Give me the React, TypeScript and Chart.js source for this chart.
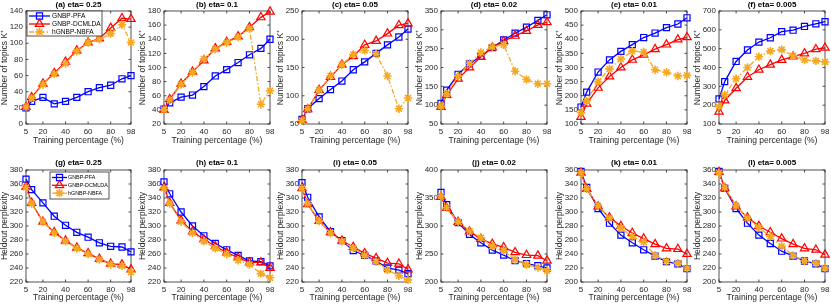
import React, { useEffect, useRef } from 'react';
import { Chart, registerables } from 'chart.js';
import { drawPoint } from 'chart.js/helpers';

Chart.register(...registerables);

const FONT = '"Liberation Sans", Arial, Helvetica, sans-serif';
const TEXT = '#262626';

// ---- data ----
const trainPct = [5, 10, 20, 30, 40, 50, 60, 70, 80, 90, 98];
const xTickValues = [5, 20, 40, 60, 80, 98];
const seriesNames = ['GNBP-PFA', 'GNBP-DCMLDA', 'hGNBP-NBFA'];

const topTitles = ['(a) eta= 0.25', '(b) eta= 0.1', '(c) eta= 0.05', '(d) eta= 0.02', '(e) eta= 0.01', '(f) eta= 0.005'];
const bottomTitles = ['(g) eta= 0.25', '(h) eta= 0.1', '(i) eta= 0.05', '(j) eta= 0.02', '(k) eta= 0.01', '(l) eta= 0.005'];
const topYLabel = 'Number of topics K\u207A';
const bottomYLabel = 'Heldout perplexity';
const xLabel = 'Training percentage (%)';

// Number of topics K+
const kA_pfa = [20, 28, 33, 25, 28, 33, 40, 45, 48, 56, 60];
const kA_dcm = [21, 33, 50, 63, 77, 91, 101, 106, 119, 131, 130];
const kA_nbfa = [21, 32, 49, 62, 75, 90, 101, 105, 112, 123, 101];

const kB_pfa = [41, 50, 58, 61, 73, 88, 97, 107, 118, 127, 140];
const kB_dcm = [40, 55, 77, 94, 110, 127, 136, 144, 157, 171, 179];
const kB_nbfa = [40, 54, 76, 93, 112, 126, 135, 143, 155, 48, 67];

const kC_pfa = [58, 77, 95, 111, 126, 146, 160, 175, 190, 204, 218];
const kC_dcm = [57, 76, 110, 133, 155, 170, 190, 197, 210, 225, 228];
const kC_nbfa = [56, 77, 110, 135, 155, 173, 180, 174, 135, 77, 96];

const kD_pfa = [105, 140, 182, 210, 230, 253, 273, 291, 307, 325, 340];
const kD_dcm = [95, 127, 170, 200, 228, 253, 270, 284, 297, 313, 320];
const kD_nbfa = [97, 130, 177, 211, 240, 255, 260, 190, 168, 157, 157];

const kE_pfa = [160, 213, 284, 327, 357, 381, 406, 422, 441, 454, 476];
const kE_dcm = [125, 172, 228, 268, 300, 327, 345, 365, 381, 399, 407];
const kE_nbfa = [140, 182, 250, 295, 330, 358, 355, 292, 283, 270, 272];

const kF_pfa = [233, 325, 432, 493, 535, 558, 590, 598, 618, 632, 643];
const kF_dcm = [165, 225, 290, 350, 388, 415, 440, 458, 475, 497, 505];
const kF_nbfa = [192, 255, 340, 400, 457, 487, 495, 462, 440, 435, 430];

// Heldout perplexity
const pG_pfa = [367, 352, 333, 314, 301, 291, 284, 276, 271, 270, 263];
const pG_dcm = [356, 333, 306, 291, 279, 269, 261, 253, 246, 245, 238];
const pG_nbfa = [355, 332, 306, 290, 278, 268, 260, 252, 245, 243, 234];

const pH_pfa = [363, 346, 320, 300, 286, 275, 266, 258, 250, 249, 243];
const pH_dcm = [355, 333, 308, 292, 281, 271, 262, 255, 248, 248, 240];
const pH_nbfa = [354, 332, 306, 290, 278, 268, 260, 251, 245, 232, 226];

const pI_pfa = [362, 341, 313, 292, 279, 265, 258, 250, 240, 237, 232];
const pI_dcm = [354, 331, 307, 291, 279, 270, 261, 254, 247, 246, 238];
const pI_nbfa = [354, 332, 307, 290, 278, 268, 258, 249, 237, 229, 223];

const pJ_pfa = [360, 338, 306, 285, 270, 257, 248, 238, 233, 229, 225];
const pJ_dcm = [352, 332, 307, 290, 277, 268, 262, 253, 248, 247, 238];
const pJ_nbfa = [354, 333, 307, 291, 279, 264, 256, 240, 231, 226, 220];

const pK_pfa = [358, 335, 305, 284, 267, 256, 246, 237, 229, 226, 219];
const pK_dcm = [356, 333, 308, 292, 280, 270, 262, 254, 248, 247, 240];
const pK_nbfa = [356, 333, 309, 291, 277, 265, 257, 238, 230, 227, 220];

const pL_pfa = [358, 334, 305, 284, 267, 255, 244, 237, 230, 226, 219];
const pL_dcm = [357, 334, 308, 292, 280, 271, 262, 254, 248, 246, 239];
const pL_nbfa = [356, 335, 309, 291, 278, 265, 251, 238, 230, 227, 220];

const topMin = [0, 20, 50, 50, 100, 100];
const topMax = [140, 180, 250, 350, 500, 700];
const topStep = [20, 20, 50, 50, 50, 100];
const bottomMin = [220, 220, 220, 200, 200, 200];
const bottomMax = [380, 380, 380, 400, 360, 360];
const bottomStep = [20, 20, 20, 50, 20, 20];

const topSeries = [
  [kA_pfa, kA_dcm, kA_nbfa],
  [kB_pfa, kB_dcm, kB_nbfa],
  [kC_pfa, kC_dcm, kC_nbfa],
  [kD_pfa, kD_dcm, kD_nbfa],
  [kE_pfa, kE_dcm, kE_nbfa],
  [kF_pfa, kF_dcm, kF_nbfa],
];
const bottomSeries = [
  [pG_pfa, pG_dcm, pG_nbfa],
  [pH_pfa, pH_dcm, pH_nbfa],
  [pI_pfa, pI_dcm, pI_nbfa],
  [pJ_pfa, pJ_dcm, pJ_nbfa],
  [pK_pfa, pK_dcm, pK_nbfa],
  [pL_pfa, pL_dcm, pL_nbfa],
];

// ---- layout / styles ----
const plotLefts = [26, 164, 302, 441, 581, 719];
const plotWidths = [105, 106, 106, 106, 106, 106];
const Y_AXIS_W = 26;
const RIGHT_PAD = 8;
const CANVAS_H = 152;

const seriesStyles = [
  { color: '#0000FF', pointStyle: 'rect', radius: 4.3, pbw: 1.2, dash: [] as number[], order: 2 },
  { color: '#FF0000', pointStyle: 'triangle', radius: 4.8, pbw: 1.2, dash: [] as number[], order: 1 },
  { color: '#F7A823', pointStyle: 'star', radius: 4.2, pbw: 1.6, dash: [5, 2, 1.5, 2], order: 0 },
];

const framePlugin = {
  id: 'frame',
  beforeDatasetsDraw(chart: any) {
    const { ctx, chartArea: a, scales } = chart;
    const xs = scales.x;
    const ys = scales.y;
    ctx.save();
    ctx.strokeStyle = TEXT;
    ctx.lineWidth = 0.8;
    ctx.setLineDash([]);
    ctx.strokeRect(a.left, a.top, a.right - a.left, a.bottom - a.top);
    const tl = 2.5;
    ctx.beginPath();
    xs.ticks.forEach((t: any) => {
      const px = xs.getPixelForValue(t.value);
      ctx.moveTo(px, a.bottom);
      ctx.lineTo(px, a.bottom - tl);
      ctx.moveTo(px, a.top);
      ctx.lineTo(px, a.top + tl);
    });
    ys.ticks.forEach((t: any) => {
      const py = ys.getPixelForValue(t.value);
      ctx.moveTo(a.left, py);
      ctx.lineTo(a.left + tl, py);
      ctx.moveTo(a.right, py);
      ctx.lineTo(a.right - tl, py);
    });
    ctx.stroke();
    ctx.restore();
  },
};

const legendPlugin = {
  id: 'boxLegend',
  afterDatasetsDraw(chart: any, _args: any, o: any) {
    if (!o || !o.show) return;
    const { ctx, chartArea: a } = chart;
    const bx = a.left + o.dx;
    const by = a.top + o.dy;
    ctx.save();
    ctx.setLineDash([]);
    ctx.fillStyle = '#ffffff';
    ctx.fillRect(bx, by, o.w, o.h);
    ctx.strokeStyle = TEXT;
    ctx.lineWidth = 0.8;
    ctx.strokeRect(bx, by, o.w, o.h);
    ctx.font = `${o.fontSize}px ${FONT}`;
    ctx.textBaseline = 'middle';
    ctx.textAlign = 'left';
    chart.data.datasets.forEach((ds: any, i: number) => {
      const cy = by + o.row0 + i * o.rowGap;
      ctx.strokeStyle = ds.borderColor;
      ctx.lineWidth = ds.borderWidth;
      ctx.setLineDash(ds.borderDash || []);
      ctx.beginPath();
      ctx.moveTo(bx + o.l0, cy);
      ctx.lineTo(bx + o.l1, cy);
      ctx.stroke();
      ctx.setLineDash([]);
      ctx.strokeStyle = ds.pointBorderColor;
      ctx.fillStyle = 'rgba(0,0,0,0)';
      ctx.lineWidth = ds.pointBorderWidth;
      drawPoint(ctx, { pointStyle: ds.pointStyle, radius: ds.pointRadius, borderWidth: ds.pointBorderWidth, rotation: 0 } as any, bx + (o.l0 + o.l1) / 2, cy);
      ctx.fillStyle = '#000000';
      ctx.fillText(ds.label, bx + o.tx, cy);
    });
    ctx.restore();
  },
};

type PanelSpec = {
  key: string;
  row: number;
  col: number;
  title: string;
  ylabel: string;
  series: number[][];
  min: number;
  max: number;
  step: number;
  legend: any;
};

const panels: PanelSpec[] = [];
for (let c = 0; c < 6; c++) {
  panels.push({
    key: 't' + c, row: 0, col: c, title: topTitles[c], ylabel: topYLabel, series: topSeries[c],
    min: topMin[c], max: topMax[c], step: topStep[c],
    legend: c === 0 ? { show: true, dx: 1, dy: 0, w: 75, h: 25, row0: 5, rowGap: 8, l0: 2, l1: 23, tx: 25, fontSize: 6.6 } : { show: false },
  });
}
for (let c = 0; c < 6; c++) {
  panels.push({
    key: 'b' + c, row: 1, col: c, title: bottomTitles[c], ylabel: bottomYLabel, series: bottomSeries[c],
    min: bottomMin[c], max: bottomMax[c], step: bottomStep[c],
    legend: c === 0 ? { show: true, dx: 24, dy: 2, w: 59, h: 27, row0: 5.5, rowGap: 7.8, l0: 2, l1: 17, tx: 18, fontSize: 5.4 } : { show: false },
  });
}

function Panel({ p }: { p: PanelSpec }) {
  const ref = useRef<HTMLCanvasElement>(null);
  const width = Y_AXIS_W + plotWidths[p.col] + RIGHT_PAD;
  const left = plotLefts[p.col] - Y_AXIS_W;
  const top = p.row * CANVAS_H;
  const top0 = p.row === 0;

  useEffect(() => {
    const datasets = p.series.map((vals, i) => {
      const s = seriesStyles[i];
      return {
        label: seriesNames[i],
        data: trainPct.map((x, j) => ({ x, y: vals[j] })),
        borderColor: s.color,
        borderWidth: 1.3,
        borderDash: s.dash,
        pointStyle: s.pointStyle,
        pointRadius: s.radius,
        pointBorderWidth: s.pbw,
        pointBorderColor: s.color,
        pointBackgroundColor: 'rgba(0,0,0,0)',
        tension: 0,
        clip: false,
        order: s.order,
      };
    });
    const chart = new Chart(ref.current as HTMLCanvasElement, {
      type: 'line',
      data: { datasets } as any,
      plugins: [framePlugin, legendPlugin],
      options: {
        animation: false,
        responsive: false,
        devicePixelRatio: 1,
        events: [],
        layout: { padding: { left: 0, right: RIGHT_PAD, top: 0, bottom: 0 } },
        plugins: {
          legend: { display: false },
          tooltip: { enabled: false },
          title: {
            display: true,
            text: p.title,
            fullSize: false,
            color: '#000000',
            font: { family: FONT, size: 8, weight: 'bold', lineHeight: 1 },
            padding: top0 ? { top: 1, bottom: 2 } : { top: 7, bottom: 3 },
          },
          boxLegend: p.legend,
        } as any,
        scales: {
          x: {
            type: 'linear',
            min: 5,
            max: 98,
            afterBuildTicks: (s: any) => {
              s.ticks = xTickValues.map((v) => ({ value: v }));
            },
            afterFit: (s: any) => {
              s.height = top0 ? 28 : 22;
            },
            ticks: {
              autoSkip: false,
              maxRotation: 0,
              padding: top0 ? 3 : 2.6,
              color: TEXT,
              font: { family: FONT, size: 8 },
            },
            grid: { display: false, drawTicks: false },
            border: { display: false },
            title: {
              display: true,
              text: xLabel,
              color: TEXT,
              font: { family: FONT, size: 8.5 },
              padding: top0 ? { top: 0, bottom: 6.5 } : { top: 0, bottom: 1 },
            },
          },
          y: {
            type: 'linear',
            min: p.min,
            max: p.max,
            afterFit: (s: any) => {
              s.width = Y_AXIS_W;
            },
            ticks: {
              stepSize: p.step,
              autoSkip: false,
              padding: 3,
              color: TEXT,
              font: { family: FONT, size: 8 },
            },
            grid: { display: false, drawTicks: false },
            border: { display: false },
            title: {
              display: true,
              text: p.ylabel,
              color: TEXT,
              font: { family: FONT, size: 8.5 },
              padding: { top: 0, bottom: 0 },
            },
          },
        },
      } as any,
    });
    return () => chart.destroy();
  }, []);

  return (
    <canvas
      ref={ref}
      width={width}
      height={CANVAS_H}
      style={{ position: 'absolute', left, top, width, height: CANVAS_H }}
    />
  );
}

export default function App() {
  return (
    <div style={{ position: 'fixed', left: 0, top: 0, width: 831, height: 304, background: '#ffffff', overflow: 'hidden' }}>
      {panels.map((p) => (
        <Panel key={p.key} p={p} />
      ))}
    </div>
  );
}
